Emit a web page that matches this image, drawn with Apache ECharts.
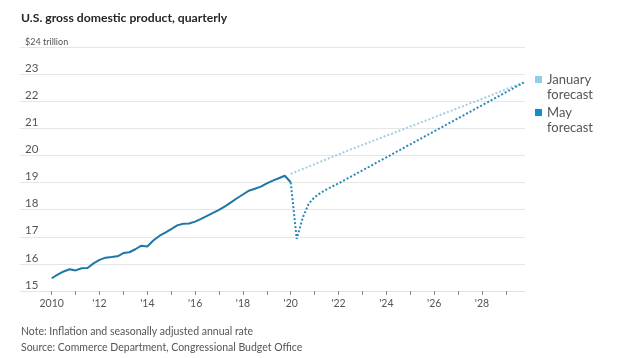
<!DOCTYPE html>
<html>
<head>
<meta charset="utf-8">
<script src="https://cdn.jsdelivr.net/npm/echarts@6/dist/echarts.min.js"></script>
<style>
html,body{margin:0;padding:0;background:#fff;}
#chart{width:629px;height:358px;}
</style>
</head>
<body>
<div id="chart"></div>
<script>
// ---- data ----
const historyStart = 2010; // 2010 Q1, quarterly
const historyValues = [15.47,15.60,15.72,15.80,15.76,15.84,15.85,16.02,16.15,16.23,16.25,16.28,16.40,16.43,16.54,16.67,16.64,16.86,17.03,17.15,17.28,17.42,17.48,17.49,17.56,17.66,17.77,17.88,17.99,18.12,18.27,18.42,18.56,18.70,18.77,18.85,18.97,19.07,19.16,19.25,19.01];
const forecastStart = 2020; // 2020 Q1, quarterly
const mayForecast = [19.01,16.92,17.70,18.22, 18.46,18.62,18.75,18.86, 18.97,19.09,19.21,19.33, 19.45,19.57,19.69,19.81, 19.93,20.05,20.17,20.29, 20.41,20.53,20.65,20.77, 20.89,21.01,21.13,21.25, 21.37,21.49,21.61,21.73, 21.85,21.97,22.09,22.21, 22.33,22.45,22.57,22.69];
const janForecast = [19.32,19.41,19.50,19.59, 19.68,19.77,19.86,19.95, 20.04,20.13,20.22,20.30, 20.39,20.47,20.56,20.64, 20.73,20.81,20.90,20.98, 21.07,21.15,21.24,21.32, 21.41,21.49,21.58,21.66, 21.75,21.83,21.92,22.00, 22.09,22.17,22.26,22.35, 22.44,22.53,22.61,22.70];
const yearTicks = [2010,2011,2012,2013,2014,2015,2016,2017,2018,2019,2020,2021,2022,2023,2024,2025,2026,2027,2028,2029];
const yearLabels = [2010,2012,2014,2016,2018,2020,2022,2024,2026,2028];
const seriesNames = ['January forecast','May forecast'];

const toPairs = (start, arr) => arr.map((v, i) => [start + i / 4, v]);

const FONT = "Lato,'Liberation Sans',Arial,sans-serif";
const legendText = {fontFamily:FONT, fontSize:13, lineHeight:15, color:'#555'};
const chart = echarts.init(document.getElementById('chart'), null, {renderer:'canvas'});
chart.setOption({
  backgroundColor:'#fff',
  animation:false,
  textStyle:{fontFamily:FONT},
  title:[
    {text:'U.S. gross domestic product, quarterly', left:21, top:12, padding:0,
     textStyle:{fontFamily:FONT, fontSize:12.2, fontWeight:'bold', color:'#262626'}},
    {text:'Note: Inflation and seasonally adjusted annual rate\nSource: Commerce Department, Congressional Budget Office',
     left:21, top:323.5, padding:0, textStyle:{fontFamily:FONT, fontSize:10.5, lineHeight:16, fontWeight:'normal', color:'#555'}}
  ],
  legend:[
    {data:[seriesNames[0]], orient:'vertical', left:535, top:57, padding:0, icon:'rect', itemWidth:7, itemHeight:7,
     formatter:n => '\n' + n.replace(' ', '\n'), textStyle:legendText},
    {data:[seriesNames[1]], orient:'vertical', left:535, top:90, padding:0, icon:'rect', itemWidth:7, itemHeight:7,
     formatter:n => '\n' + n.replace(' ', '\n'), textStyle:legendText}
  ],
  grid:{left:20, right:104, top:47, bottom:67},
  xAxis:{
    type:'value', min:2008.674, max:2029.80,
    axisLine:{show:true, lineStyle:{color:'#e3e3e3', width:1}},
    axisTick:{show:true, customValues:yearTicks, length:4, lineStyle:{color:'#888'}},
    axisLabel:{customValues:yearLabels, margin:7, fontSize:10.5, color:'#555', fontFamily:FONT,
      formatter:v => v === 2010 ? '2010' : "'" + String(v).slice(2)},
    splitLine:{show:false}
  },
  yAxis:{
    type:'value', min:15, max:24, interval:1,
    axisLine:{show:false}, axisTick:{show:false},
    splitLine:{lineStyle:{color:'#e6e6e6', width:1}},
    axisLabel:{inside:true, margin:5, verticalAlign:'bottom', fontSize:11.5, color:'#555', fontFamily:FONT,
      formatter:v => v === 24 ? '{u|$24 trillion}' : String(v),
      rich:{u:{fontSize:9, color:'#555', fontFamily:FONT}}}
  },
  series:[
    {name:'History', type:'line', data:toPairs(historyStart, historyValues), showSymbol:false, symbol:'none',
     lineStyle:{color:'#1f77a6', width:2}, itemStyle:{color:'#1f77a6'}, z:3},
    {name:seriesNames[0], type:'line', data:toPairs(forecastStart, janForecast), showSymbol:false, symbol:'none',
     lineStyle:{color:'#a3cfe3', width:2, type:[2,2], cap:'butt'}, itemStyle:{color:'#94cde9'}, z:2},
    {name:seriesNames[1], type:'line', data:toPairs(forecastStart, mayForecast), showSymbol:false, symbol:'none',
     lineStyle:{color:'#2a88ba', width:2, type:[2,2], cap:'butt'}, itemStyle:{color:'#0f8fd0'}, z:2}
  ]
});
</script>
</body>
</html>
